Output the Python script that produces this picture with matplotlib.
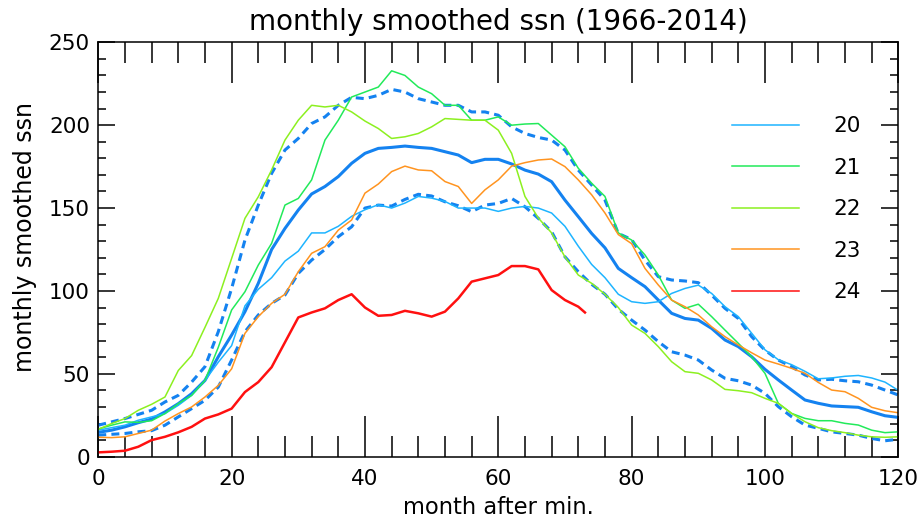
import matplotlib
matplotlib.use('Agg')
import matplotlib.pyplot as plt
from matplotlib.ticker import MultipleLocator

# months after minimum (2-month sampling)
months = list(range(0, 121, 2))
months_24 = list(range(0, 73, 2)) + [73]

ssn_20 = [16, 17.5, 19, 22, 24, 26, 31, 37, 46, 57, 67, 91, 101, 108, 118, 124,
          135, 135, 139, 145, 149, 152, 150, 153, 157, 156, 154, 150, 150, 150, 148,
          150, 151, 150, 147, 139, 127, 116, 108, 98, 93.5, 92.5, 93.5, 98.5, 101.5, 103.5,
          98.5, 90.5, 84.5, 74.5, 64.5, 58.5, 55.5, 51.5, 47, 47.5, 48.5, 49, 47.5, 45, 40]
ssn_21 = [16.7, 19, 21, 20.7, 21.7, 26, 32, 37, 46, 66, 88.5, 99.5, 115.6, 128.7, 151.8, 155.8,
          167, 191, 203, 217, 220, 223, 232.8, 230, 223, 219, 212, 212, 203, 203, 205,
          200, 200.7, 201, 194, 187, 174, 165, 157, 135, 130.7, 121.7, 109.6, 94.5, 89.5, 92,
          84.5, 76.4, 68.4, 60.3, 50.3, 32.2, 26.1, 23.1, 21.7, 21.7, 20.1, 19.1, 16, 14.5, 15]
ssn_22 = [16.5, 20, 23, 28, 31.6, 36, 52, 61, 78, 95.5, 119.6, 143.8, 156.8, 173, 191, 203,
          212, 211, 212, 208, 202.5, 198, 192, 193, 195, 199, 204, 203.5, 203, 203, 197,
          183, 157, 144, 135, 120.5, 109.6, 104.6, 98, 90, 79.4, 74.4, 66.4, 57.3, 51.3, 50.3,
          46.3, 40.6, 39.8, 38.6, 35.2, 32.2, 26.1, 21.1, 17.5, 15.7, 14.5, 13, 12, 11.7, 12]
ssn_23 = [11.7, 11.5, 12, 14, 16, 21.5, 26, 30, 36, 43, 53, 74.4, 84.5, 92.5, 98, 111.6,
          122.7, 126.7, 136.7, 142.8, 159, 164.5, 172, 175.3, 173, 172.5, 166, 163, 152.8, 161, 167,
          175.3, 177.4, 179, 179.6, 175, 167, 158, 147, 134, 128.5, 113.6, 103.6, 94.5, 90.5, 85.5,
          78.4, 72.4, 67.4, 62.7, 58.3, 55.9, 53.3, 50.3, 44.8, 40.2, 39.2, 35.2, 29.8, 27.7, 26.5]
ssn_24 = [2.6, 3, 3.6, 6, 10, 12, 14.7, 18, 23, 25.5, 29, 39, 45, 54, 69, 84,
          87, 89.5, 94.5, 98, 90, 85, 85.5, 88, 86.5, 84.5, 87.5, 95.5, 105.6, 107.6, 109.6,
          115, 115, 113, 100.5, 94.5, 90.5, 87]

# average of cycles 20-23 and the +/- spread (dashed)
ssn_mean = [14.7, 16, 18, 20.5, 22.7, 27, 32, 38, 46, 60.3, 73.4, 87.5, 104.6, 125, 137.7, 148.8,
            158.5, 163, 169, 177, 183, 186, 186.6, 187.4, 186.6, 186, 184, 182, 177.4, 179.4, 179.4,
            176.6, 172.9, 170.5, 165.9, 154.8, 144.8, 134.7, 126, 113.6, 108, 102.6, 94.5, 86.5, 83.4, 82.4,
            77.4, 70.4, 66.4, 60.3, 52.7, 46.3, 40.2, 34.2, 32.2, 30.6, 30.2, 29.8, 27.1, 24.7, 23.7]
ssn_upper = [19, 21, 23, 25.5, 28, 33, 37, 45, 54.3, 75.4, 101.5, 130.7, 151.8, 170.9, 185, 192,
             201, 205, 212, 216.8, 216, 218, 221.6, 220, 216, 214, 212, 212, 208, 208, 206,
             199, 195, 192.6, 191, 185, 172.9, 163.9, 154.8, 134.7, 131, 118.6, 108.6, 106.6, 106, 105,
             97.5, 89.5, 83.4, 72.4, 64.3, 58.3, 54.3, 49.3, 46.3, 46.7, 45.8, 45.2, 43.2, 40.2, 37.2]
ssn_lower = [13, 13.5, 14, 15, 15.7, 19, 24, 29, 34, 42, 58.3, 75.4, 85.5, 92.5, 97.5, 110.6,
             118.6, 125, 132.7, 138.7, 150, 151.8, 151.2, 155.2, 158.3, 157.3, 153.8, 151.4, 147.8, 151.8, 152.8,
             155.8, 150.8, 143.8, 135.7, 120.6, 111.6, 104, 98, 89, 82.4, 76.4, 69.4, 63.3, 61.3, 58.3,
             52.3, 47.3, 45.8, 43.2, 38.2, 30.2, 24.1, 19.1, 17.1, 15, 14, 13, 11, 9.6, 10.5]

cycle_labels = ['20', '21', '22', '23', '24']
cycle_colors = ['#1EB4FF', '#22EA5A', '#8CF020', '#FF9420', '#FF1010']

plt.rcParams['font.family'] = 'DejaVu Sans'

fig = plt.figure(figsize=(9.22, 5.23), dpi=100)
ax = fig.add_axes([0.1066, 0.1268, 0.8677, 0.7923])

blue = '#1482F0'
ax.plot(months, ssn_upper, color=blue, lw=2.2, ls=(0, (2.6, 1.7)))
ax.plot(months, ssn_lower, color=blue, lw=2.2, ls=(0, (2.6, 1.7)))
ax.plot(months, ssn_mean, color=blue, lw=2.2)

series = [ssn_20, ssn_21, ssn_22, ssn_23]
for vals, lab, col in zip(series, cycle_labels[:4], cycle_colors[:4]):
    ax.plot(months, vals, color=col, lw=1.1, label=lab)
ax.plot(months_24, ssn_24, color=cycle_colors[4], lw=1.8, label=cycle_labels[4])

ax.set_xlim(0, 120)
ax.set_ylim(0, 250)
ax.xaxis.set_major_locator(MultipleLocator(20))
ax.xaxis.set_minor_locator(MultipleLocator(4))
ax.yaxis.set_major_locator(MultipleLocator(50))
ax.yaxis.set_minor_locator(MultipleLocator(10))
ax.tick_params(axis='x', which='major', direction='in', length=29.5, width=1.1,
               top=True, labelsize=15.5, pad=9)
ax.tick_params(axis='x', which='minor', direction='in', length=15, width=1.1, top=True)
ax.tick_params(axis='y', which='major', direction='in', length=12, width=1.1,
               right=True, labelsize=15.5, pad=6)
ax.tick_params(axis='y', which='minor', direction='in', length=6, width=1.1, right=True)
for sp in ax.spines.values():
    sp.set_linewidth(1.1)

# keep end labels inside the axis range like the original
ylabels = ax.get_yticklabels()
ylabels[0].set_va('bottom')
ylabels[-1].set_va('top')

ax.set_title('monthly smoothed ssn (1966-2014)', fontsize=20, pad=9)
ax.set_xlabel('month after min.', fontsize=16.3)
ax.set_ylabel('monthly smoothed ssn', fontsize=17)
ax.xaxis.set_label_coords(0.5, -0.095)
ax.yaxis.set_label_coords(-0.077, 0.53)

leg = ax.legend(loc='upper left', bbox_to_anchor=(0.792, 0.822), frameon=False,
                fontsize=15.5, handlelength=3.1, handletextpad=1.6, labelspacing=1.0,
                borderpad=0, borderaxespad=0)
for h in leg.get_lines():
    h.set_linewidth(1.1)

plt.savefig('out.png', dpi=100)
